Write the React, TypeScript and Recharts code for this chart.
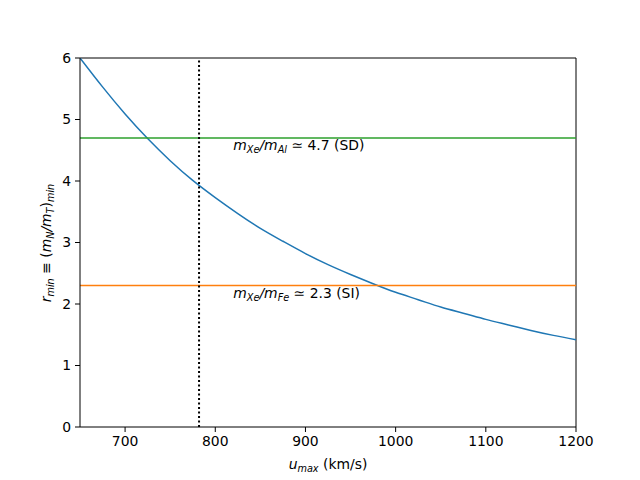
import React from "react";
import { LineChart, Line, XAxis, YAxis, ReferenceLine, ReferenceDot, Label } from "recharts";

const uMax = [650, 675, 700, 725, 750, 775, 800, 825, 850, 875, 900, 925, 950, 975, 1000, 1025, 1050, 1075, 1100, 1125, 1150, 1175, 1200];
const rMin = [6.0, 5.53, 5.09, 4.69, 4.33, 4.01, 3.73, 3.47, 3.23, 3.02, 2.82, 2.64, 2.48, 2.33, 2.19, 2.07, 1.95, 1.85, 1.75, 1.66, 1.57, 1.49, 1.42];
const xTicks = [700, 800, 900, 1000, 1100, 1200];
const yTicks = [0, 1, 2, 3, 4, 5, 6];
const ratioAl = 4.7;
const ratioFe = 2.3;
const uCut = 782;
const labelAl = { x: 820, y: 4.5, sub2: "Al", value: "4.7 (SD)" };
const labelFe = { x: 820, y: 2.1, sub2: "Fe", value: "2.3 (SI)" };

const data = uMax.map((u, i) => ({ u, r: rMin[i] }));

const FONT = "DejaVu Sans, sans-serif";
const FS = 13.9;
const SUB = 9.7;

const RatioText = ({ x, y, sub2, value }: any) => (
  <text x={x} y={y} fontFamily={FONT} fontSize={FS} fill="#000">
    <tspan fontStyle="italic">m</tspan>
    <tspan fontStyle="italic" fontSize={SUB} dy={3}>Xe</tspan>
    <tspan fontStyle="italic" dy={-3}>/m</tspan>
    <tspan fontStyle="italic" fontSize={SUB} dy={3}>{sub2}</tspan>
    <tspan dy={-3}>{" \u2243  " + value}</tspan>
  </text>
);

const dotLabel = (info: any) => (props: any) => {
  const vb = props.viewBox || {};
  return <RatioText x={vb.x} y={vb.y} sub2={info.sub2} value={info.value} />;
};

const YLabel = () => (
  <text x={0} y={0} transform="translate(51,243) rotate(-90)" textAnchor="middle" fontFamily={FONT} fontSize={FS} fill="#000">
    <tspan fontStyle="italic">r</tspan>
    <tspan fontStyle="italic" fontSize={SUB} dy={3}>min</tspan>
    <tspan dy={-3}>{" \u2261 ("}</tspan>
    <tspan fontStyle="italic">m</tspan>
    <tspan fontStyle="italic" fontSize={SUB} dy={3}>N</tspan>
    <tspan fontStyle="italic" dy={-3}>/m</tspan>
    <tspan fontStyle="italic" fontSize={SUB} dy={3}>T</tspan>
    <tspan dy={-3}>)</tspan>
    <tspan fontStyle="italic" fontSize={SUB} dy={3}>min</tspan>
  </text>
);

const XLabel = () => (
  <text x={328} y={469} textAnchor="middle" fontFamily={FONT} fontSize={FS} fill="#000">
    <tspan fontStyle="italic">u</tspan>
    <tspan fontStyle="italic" fontSize={SUB} dy={3}>max</tspan>
    <tspan dy={-3}>{" (km/s)"}</tspan>
  </text>
);

export default function App() {
  const tick = { fontFamily: FONT, fontSize: FS, fill: "#000" };
  return (
    <div style={{ position: "absolute", left: 0, top: 0, width: 640, height: 480, background: "#fff" }}>
      <LineChart width={640} height={480} data={data} margin={{ top: 58, right: 64, left: 20, bottom: 23 }}>
        <XAxis
          dataKey="u"
          type="number"
          domain={[650, 1200]}
          ticks={xTicks}
          allowDataOverflow
          height={30}
          tick={tick}
          tickSize={5}
          tickMargin={4}
          stroke="#000"
          tickLine={{ stroke: "#000" }}
          axisLine={{ stroke: "#000" }}
        >
          <Label content={<XLabel />} />
        </XAxis>
        <YAxis
          type="number"
          domain={[0, 6]}
          ticks={yTicks}
          allowDataOverflow
          width={60}
          tick={tick}
          tickSize={5}
          tickMargin={4}
          stroke="#000"
          tickLine={{ stroke: "#000" }}
          axisLine={{ stroke: "#000" }}
        >
          <Label content={<YLabel />} />
        </YAxis>
        <ReferenceLine y={6} stroke="#000" strokeWidth={1} />
        <ReferenceLine x={1200} stroke="#000" strokeWidth={1} />
        <Line type="natural" dataKey="r" stroke="#1f77b4" strokeWidth={1.5} dot={false} isAnimationActive={false} />
        <ReferenceLine y={ratioAl} stroke="#2ca02c" strokeWidth={1.5} />
        <ReferenceLine y={ratioFe} stroke="#ff7f0e" strokeWidth={1.5} />
        <ReferenceLine x={uCut} stroke="#000" strokeWidth={2} strokeDasharray="2 2.5" />
        <ReferenceDot x={labelAl.x} y={labelAl.y} r={0} fill="none" stroke="none" label={{ content: dotLabel(labelAl) }} />
        <ReferenceDot x={labelFe.x} y={labelFe.y} r={0} fill="none" stroke="none" label={{ content: dotLabel(labelFe) }} />
      </LineChart>
    </div>
  );
}
